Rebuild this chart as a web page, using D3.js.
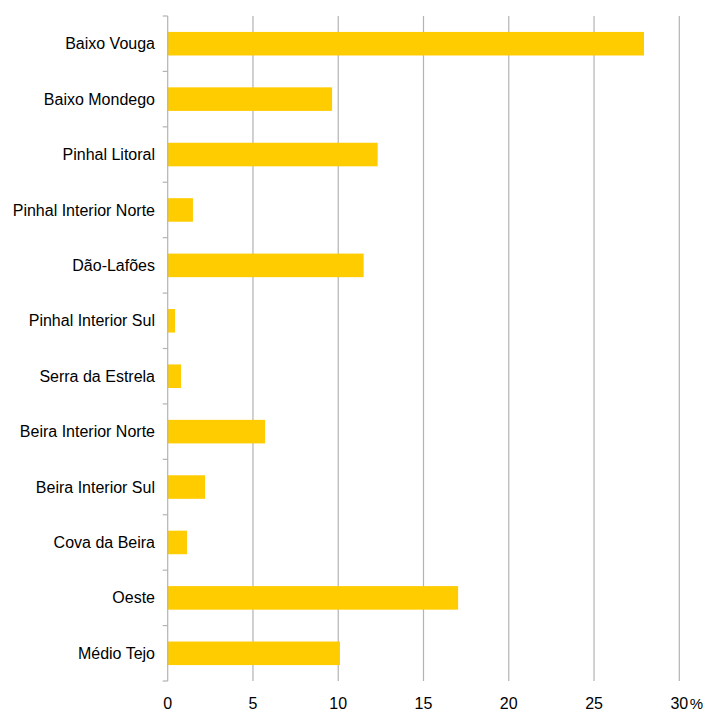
<!DOCTYPE html>
<html><head><meta charset="utf-8">
<script src="https://cdn.jsdelivr.net/npm/d3@7"></script>
<style>body{margin:0;background:#fff}svg{display:block}text{font-family:Arial,"Liberation Sans",Helvetica,sans-serif;fill:#000}</style>
</head><body><svg id="c" width="704" height="711"></svg>
<script>
const categories = ["Baixo Vouga","Baixo Mondego","Pinhal Litoral","Pinhal Interior Norte","Dão-Lafões","Pinhal Interior Sul","Serra da Estrela","Beira Interior Norte","Beira Interior Sul","Cova da Beira","Oeste","Médio Tejo"];
const values = [27.93, 9.64, 12.31, 1.48, 11.49, 0.43, 0.78, 5.71, 2.19, 1.13, 17.03, 10.1];
const xTicks = [0, 5, 10, 15, 20, 25, 30];

(function () {
const svg = d3.select("#c");
const mLeft = 167.7, mRight = 679.3, mTop = 16, mBottom = 681;
const x = d3.scaleLinear().domain([0, 30]).range([mLeft, mRight]);
const y = d3.scaleBand().domain(categories).range([mTop, mBottom]).paddingInner(0.575).paddingOuter(0.2875);
const grid = "#b3b3b3";
const fs = 16;

svg.append("g").selectAll("line").data(xTicks.slice(1)).join("line")
  .attr("x1", d => x(d)).attr("x2", d => x(d)).attr("y1", mTop).attr("y2", mBottom)
  .attr("stroke", grid).attr("stroke-width", 1.2);

svg.append("g").selectAll("rect").data(values).join("rect")
  .attr("x", x(0)).attr("y", (d, i) => y(categories[i]))
  .attr("width", d => x(d) - x(0)).attr("height", y.bandwidth())
  .attr("fill", "#ffcc00");

const step = (mBottom - mTop) / categories.length;
svg.append("line").attr("x1", mLeft).attr("x2", mLeft).attr("y1", mTop).attr("y2", mBottom).attr("stroke", grid).attr("stroke-width", 1.2);
svg.append("g").selectAll("line").data(d3.range(categories.length + 1)).join("line")
  .attr("x1", mLeft - 5).attr("x2", mLeft).attr("y1", i => mTop + i * step).attr("y2", i => mTop + i * step)
  .attr("stroke", grid).attr("stroke-width", 1.2);

svg.append("g").selectAll("text").data(categories).join("text")
  .attr("x", 155).attr("y", d => y(d) + y.bandwidth() / 2).attr("dy", "0.35em")
  .attr("text-anchor", "end").attr("font-size", fs).text(d => d);

svg.append("g").selectAll("text").data(xTicks).join("text")
  .attr("x", d => x(d)).attr("y", 709).attr("text-anchor", "middle").attr("font-size", fs)
  .text(d => d);
svg.append("text").attr("x", 703).attr("y", 709).attr("text-anchor", "end").attr("font-size", 15).text("%");
})();
</script></body></html>
